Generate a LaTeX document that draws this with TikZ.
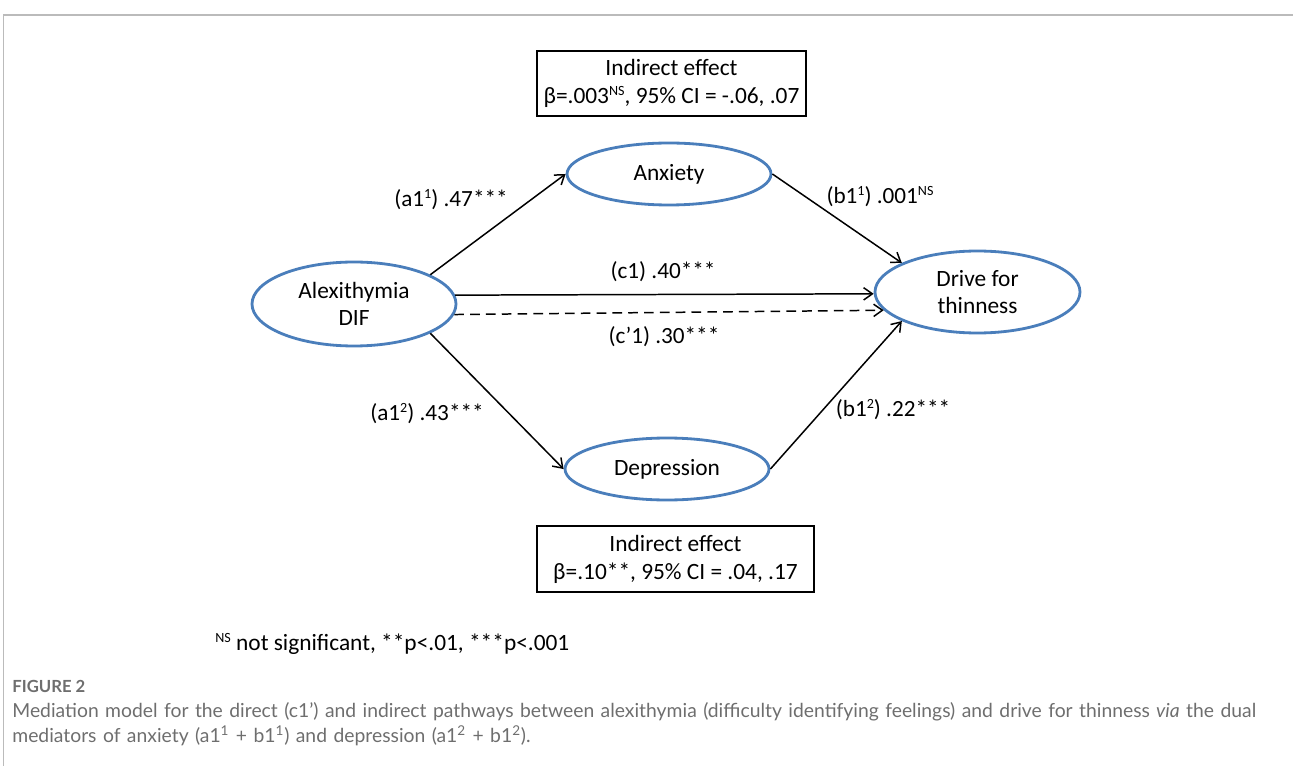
\documentclass[tikz,border=0pt]{standalone}
\usepackage{fontspec}
\setmainfont{Carlito}
\newfontfamily\capfont{Lato}
\usetikzlibrary{shapes.geometric,arrows.meta}
\definecolor{ellblue}{HTML}{4A7EBB}
\definecolor{capgray}{HTML}{6E6E6E}
\definecolor{framegray}{HTML}{BBBBBB}
\newcommand\sups[1]{\raisebox{0.72ex}{\fontsize{8}{8}\selectfont #1}}
\tikzset{
  var/.style={ellipse, draw=ellblue, line width=1.6pt, inner sep=0pt, align=center, font=\fontsize{13.3}{15.3}\selectfont},
  effbox/.style={draw=black, line width=0.7pt, align=center, inner sep=0pt, font=\fontsize{13.3}{16}\selectfont},
  path/.style={line width=0.85pt, -{Straight Barb[length=5pt,width=7pt]}},
  lbl/.style={font=\fontsize{13.2}{15}\selectfont, inner sep=0pt},
}
\begin{document}
\begin{tikzpicture}[x=0.02cm,y=-0.02cm]
\useasboundingbox (0,0) rectangle (1293,766);
\draw[framegray, line width=0.8pt] (1293,15) -- (3.5,15) -- (3.5,766);
% boxes
\node[effbox, minimum width=269*0.02cm, minimum height=65*0.02cm] (topbox) at (671.5,83.5)
  {Indirect effect\\ β=.003\sups{NS}, 95\% CI = -.06, .07};
\node[effbox, minimum width=277*0.02cm, minimum height=66*0.02cm] (botbox) at (675.5,559)
  {Indirect effect\\ β=.10**, 95\% CI = .04, .17};
% variables
\node[var, minimum width=204*0.02cm, minimum height=62*0.02cm] (anx) at (669,174) {Anxiety};
\node[var, minimum width=204*0.02cm, minimum height=84*0.02cm] (alex) at (354,304) {Alexithymia\\DIF};
\node[var, minimum width=205*0.02cm, minimum height=82*0.02cm] (dft) at (977.5,292) {Drive for\\thinness};
\node[var, minimum width=204*0.02cm, minimum height=62*0.02cm] (dep) at (667,469) {Depression};
% paths
\draw[path] (alex.21) -- (anx.180);
\draw[path] (anx.0) -- (dft.159);
\draw[path] (alex.5) -- (dft.181);
\draw[path, dash pattern=on 5.5pt off 3.5pt] (alex.-6) -- (dft.191);
\draw[path] (alex.-21) -- (dep.180);
\draw[path] (dep.0) -- (dft.201);
% labels
\node[lbl] (la1) at (451,200) {(a1\sups{1}) .47***};
\node[lbl] (lb1) at (880,197) {(b1\sups{1}) .001\sups{NS}};
\node[lbl] (lc1) at (663,272) {(c1) .40***};
\node[lbl] (lc2) at (664,337) {(c’1) .30***};
\node[lbl] (la2) at (427,414) {(a1\sups{2}) .43***};
\node[lbl] (lb2) at (893,410) {(b1\sups{2}) .22***};
% footnote
\node[lbl, font=\fontsize{13.3}{16}\selectfont, anchor=west] (foot) at (215,644)
  {\sups{NS} not significant, **p<.01, ***p<.001};
% caption
\node[anchor=west, inner sep=0pt, text=capgray, font=\capfont\bfseries\fontsize{9.5}{11}\selectfont] (fig) at (12,686) {FIGURE 2};
\node[anchor=north west, inner sep=0pt, text=capgray, align=left, text width=1275*0.02cm,
  font=\capfont\fontsize{11}{14.2}\selectfont] (cap) at (12,702)
  {Mediation model for the direct (c1’) and indirect pathways between alexithymia (difficulty identifying feelings) and drive for thinness \textit{via} the dual\\
   mediators of anxiety (a1\textsuperscript{1} + b1\textsuperscript{1}) and depression (a1\textsuperscript{2} + b1\textsuperscript{2}).};
\end{tikzpicture}
\end{document}
